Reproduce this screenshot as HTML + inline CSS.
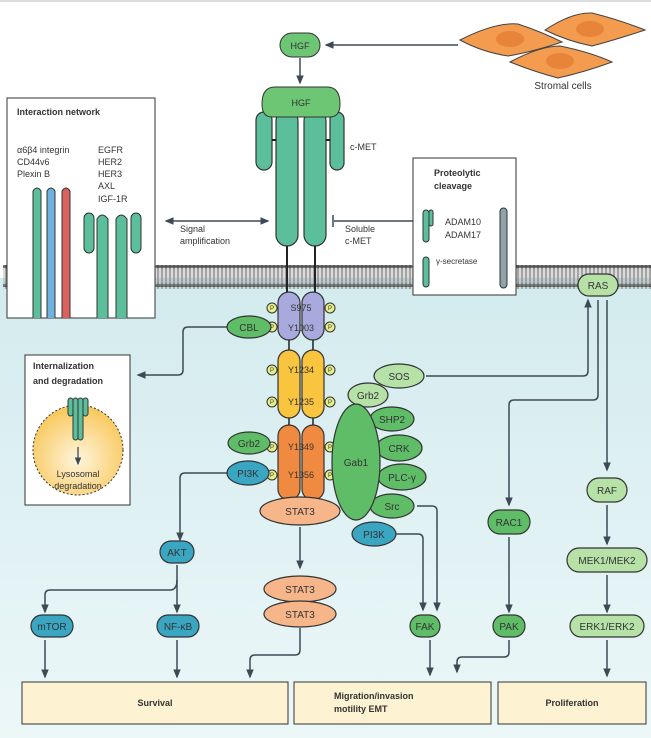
<!DOCTYPE html>
<html><head><meta charset="utf-8"><style>body{margin:0}svg{display:block}text{font-family:"Liberation Sans",sans-serif;fill:#333}</style></head><body>
<svg width="651" height="738" viewBox="0 0 651 738" xmlns="http://www.w3.org/2000/svg">
<defs>
<linearGradient id="bg" x1="0" y1="0" x2="0" y2="1"><stop offset="0" stop-color="#d3ebee"/><stop offset="1" stop-color="#ecf7f8"/></linearGradient>
<radialGradient id="lys" cx="0.5" cy="0.6" r="0.6"><stop offset="0" stop-color="#fff5dc"/><stop offset="1" stop-color="#f8c75a"/></radialGradient>
<marker id="a" markerWidth="6" markerHeight="6" refX="5" refY="3" orient="auto"><path d="M0,0.5 L6,3 L0,5.5z" fill="#3c4a55"/></marker>
<marker id="b" markerWidth="6" markerHeight="6" refX="1" refY="3" orient="auto"><path d="M6,0.5 L0,3 L6,5.5z" fill="#3c4a55"/></marker>
<pattern id="mem" width="4" height="24" patternUnits="userSpaceOnUse"><circle cx="2" cy="2.5" r="2" fill="#555"/><rect x="1.3" y="4" width="1.4" height="16" fill="#888"/><circle cx="2" cy="21.5" r="2" fill="#555"/></pattern>
</defs>
<rect width="651" height="738" fill="#fff"/>
<rect x="0" y="0" width="651" height="2" fill="#ddd"/>
<rect x="0" y="278" width="651" height="460" fill="url(#bg)"/>
<rect x="3" y="265" width="648" height="24" fill="url(#mem)"/>
<rect x="3" y="268" width="648" height="18" fill="#999" opacity="0.35"/>
<g stroke="#3c4a55" stroke-width="1.5" fill="none">
<line x1="458" y1="45" x2="326" y2="45" marker-end="url(#a)"/>
<line x1="300" y1="58" x2="300" y2="83" marker-end="url(#a)"/>
<line x1="166" y1="221" x2="268" y2="221" marker-start="url(#b)" marker-end="url(#a)"/>
<line x1="420" y1="221" x2="334" y2="221"/><line x1="333" y1="215" x2="333" y2="227"/>
<line x1="495" y1="247" x2="434" y2="247" marker-end="url(#a)"/>
<path d="M228,327 H188 Q183,327 183,332 V370 Q183,375 178,375 H138" marker-end="url(#a)"/>
<path d="M228,473 H185 Q180,473 180,478 V540" marker-end="url(#a)"/>
<path d="M177,565 V612" marker-end="url(#a)"/>
<path d="M177,580 Q177,590 170,590 H50 Q45,590 45,595 V612" marker-end="url(#a)"/>
<line x1="45" y1="640" x2="45" y2="677" marker-end="url(#a)"/>
<line x1="177" y1="640" x2="177" y2="677" marker-end="url(#a)"/>
<line x1="300" y1="527" x2="300" y2="568" marker-end="url(#a)"/>
<path d="M300,628 V650 Q300,655 295,655 H255 Q250,655 250,660 V677" marker-end="url(#a)"/>
<path d="M417,506 H432 Q437,506 437,511 V610" marker-end="url(#a)"/>
<path d="M396,534 H418 Q423,534 423,539 V610" marker-end="url(#a)"/>
<line x1="430" y1="640" x2="430" y2="675" marker-end="url(#a)"/>
<path d="M509,640 V652 Q509,657 504,657 H462 Q457,657 457,662 V672" marker-end="url(#a)"/>
<path d="M426,376 H583 Q588,376 588,371 V300" marker-end="url(#a)"/>
<path d="M598,300 V395 Q598,400 593,400 H514 Q509,400 509,405 V505" marker-end="url(#a)"/>
<line x1="607" y1="300" x2="607" y2="470" marker-end="url(#a)"/>
<line x1="607" y1="505" x2="607" y2="544" marker-end="url(#a)"/>
<line x1="607" y1="575" x2="607" y2="612" marker-end="url(#a)"/>
<line x1="607" y1="640" x2="607" y2="676" marker-end="url(#a)"/>
<line x1="509" y1="537" x2="509" y2="612" marker-end="url(#a)"/>
</g>
<!-- stromal cells -->
<g stroke="#444" stroke-width="1" fill="#f39c4f">
<path d="M460,40 Q495,22 518,24 Q542,32 562,42 Q532,52 508,56 Q482,52 460,40z"/>
<path d="M545,30 Q572,12 592,13 Q620,20 645,30 Q615,40 592,46 Q567,41 545,30z"/>
<path d="M510,62 Q540,46 560,46 Q590,52 612,62 Q585,72 558,78 Q535,72 510,62z"/>
</g>
<g fill="#e8843a"><ellipse cx="510" cy="39" rx="14" ry="8"/><ellipse cx="590" cy="29" rx="14" ry="8"/><ellipse cx="560" cy="61" rx="14" ry="8"/></g>
<text x="563" y="89" font-size="10" text-anchor="middle">Stromal cells</text>
<!-- HGF -->
<rect x="280" y="33" width="40" height="24" rx="12" fill="#6cc673" stroke="#333"/>
<text x="300" y="49" font-size="9" text-anchor="middle">HGF</text>
<g fill="#5cbf9c" stroke="#333" stroke-width="1.2">
<rect x="256" y="112" width="16" height="58" rx="8"/><rect x="330" y="112" width="14" height="58" rx="7"/>
<rect x="276" y="110" width="22" height="136" rx="11"/><rect x="304" y="110" width="22" height="136" rx="11"/>
</g>
<path d="M262,104 Q262,87 275,87 H327 Q340,87 340,104 Q340,117 330,117 H272 Q262,117 262,104z" fill="#6cc673" stroke="#333"/>
<text x="301" y="106" font-size="9" text-anchor="middle">HGF</text>
<g stroke="#222" stroke-width="2"><line x1="272" y1="140" x2="276" y2="140"/><line x1="326" y1="140" x2="330" y2="140"/><line x1="287" y1="246" x2="287" y2="294"/><line x1="315" y1="246" x2="315" y2="294"/></g>
<text x="350" y="150" font-size="9">c-MET</text>
<text x="180" y="232" font-size="9">Signal</text><text x="180" y="244" font-size="9">amplification</text>
<text x="345" y="232" font-size="9">Soluble</text><text x="345" y="244" font-size="9">c-MET</text>
<!-- interaction box -->
<rect x="7" y="98" width="148" height="220" fill="#fff" stroke="#333"/>
<text x="17" y="115" font-size="9" font-weight="bold">Interaction network</text>
<g font-size="9"><text x="17" y="153">α6β4 integrin</text><text x="17" y="165">CD44v6</text><text x="17" y="177">Plexin B</text>
<text x="98" y="153">EGFR</text><text x="98" y="165">HER2</text><text x="98" y="177">HER3</text><text x="98" y="189">AXL</text><text x="98" y="202">IGF-1R</text></g>
<g stroke="#333"><path d="M33,318 V191 Q37,185 41,191 V318" fill="#5cbf9c"/><path d="M47,318 V191 Q51,185 55,191 V318" fill="#6fb2e0"/><path d="M62,318 V191 Q66,185 70,191 V318" fill="#d9615e"/>
<rect x="84" y="213" width="10" height="40" rx="5" fill="#5cbf9c"/><rect x="131" y="213" width="10" height="40" rx="5" fill="#5cbf9c"/>
<path d="M97,318 V219 Q102,211 108,219 V318" fill="#5cbf9c"/><path d="M116,318 V219 Q121,211 127,219 V318" fill="#5cbf9c"/></g>
<!-- proteolytic -->
<rect x="413" y="158" width="103" height="137" fill="#fff" stroke="#333"/>
<text x="434" y="176" font-size="9" font-weight="bold">Proteolytic</text><text x="434" y="189" font-size="9" font-weight="bold">cleavage</text>
<g stroke="#333"><rect x="423" y="210" width="6" height="32" rx="3" fill="#5cbf9c"/><rect x="429" y="210" width="4" height="16" rx="2" fill="#5cbf9c"/><rect x="423" y="257" width="6" height="30" rx="3" fill="#5cbf9c"/><rect x="500" y="208" width="7" height="80" rx="3.5" fill="#8fa3ab"/></g>
<text x="445" y="225" font-size="9">ADAM10</text><text x="445" y="238" font-size="9">ADAM17</text><text x="436" y="264" font-size="8">γ-secretase</text>
<!-- internalization -->
<rect x="25" y="355" width="105" height="150" fill="#fff" stroke="#333"/>
<text x="33" y="369" font-size="9" font-weight="bold">Internalization</text><text x="33" y="384" font-size="9" font-weight="bold">and degradation</text>
<circle cx="78" cy="450" r="45" fill="url(#lys)" stroke="#333" stroke-dasharray="2,2"/>
<g fill="#5cbf9c" stroke="#333"><rect x="68" y="398" width="5" height="18" rx="2.5"/><rect x="83" y="398" width="5" height="18" rx="2.5"/><rect x="73" y="398" width="5" height="42" rx="2.5"/><rect x="78" y="398" width="5" height="42" rx="2.5"/></g>
<line x1="78" y1="447" x2="78" y2="464" stroke="#3c4a55" stroke-width="1.3" marker-end="url(#a)"/>
<text x="78" y="477" font-size="9" text-anchor="middle" fill="#8a6a30">Lysosomal</text><text x="78" y="489" font-size="9" text-anchor="middle" fill="#8a6a30">degradation</text>
<!-- kinase -->
<g stroke="#333" stroke-width="1.2">
<rect x="278" y="292" width="22" height="48" rx="11" fill="#a8aade"/><rect x="302" y="292" width="22" height="48" rx="11" fill="#a8aade"/>
<rect x="278" y="350" width="22" height="68" rx="11" fill="#f9c43e"/><rect x="302" y="350" width="22" height="68" rx="11" fill="#f9c43e"/>
<rect x="278" y="425" width="22" height="75" rx="11" fill="#f08a40"/><rect x="302" y="425" width="22" height="75" rx="11" fill="#f08a40"/>
</g>
<g stroke="#222" stroke-width="1.5"><line x1="289" y1="340" x2="289" y2="350"/><line x1="313" y1="340" x2="313" y2="350"/><line x1="289" y1="418" x2="289" y2="425"/><line x1="313" y1="418" x2="313" y2="425"/></g>
<g font-size="9" text-anchor="middle"><text x="301" y="311">S975</text><text x="301" y="331">Y1003</text><text x="301" y="373">Y1234</text><text x="301" y="405">Y1235</text><text x="301" y="450">Y1349</text><text x="301" y="478">Y1356</text></g>
<g fill="#e6ee8a" stroke="#333" stroke-width="1">
<circle cx="272" cy="308" r="5"/><circle cx="330" cy="308" r="5"/><circle cx="272" cy="327" r="5"/><circle cx="330" cy="327" r="5"/>
<circle cx="272" cy="370" r="5"/><circle cx="330" cy="370" r="5"/><circle cx="272" cy="402" r="5"/><circle cx="330" cy="402" r="5"/>
<circle cx="272" cy="447" r="5"/><circle cx="330" cy="447" r="5"/><circle cx="272" cy="475" r="5"/><circle cx="330" cy="475" r="5"/></g>
<g font-size="6" text-anchor="middle"><text x="272" y="310">P</text><text x="330" y="310">P</text><text x="272" y="329">P</text><text x="330" y="329">P</text><text x="272" y="372">P</text><text x="330" y="372">P</text><text x="272" y="404">P</text><text x="330" y="404">P</text><text x="272" y="449">P</text><text x="330" y="449">P</text><text x="272" y="477">P</text><text x="330" y="477">P</text></g>
<g stroke="#333" stroke-width="1.2">
<ellipse cx="300" cy="511" rx="40" ry="14" fill="#f6b68a"/>
<ellipse cx="368" cy="395" rx="20" ry="12" fill="#b6e2a8"/>
<ellipse cx="399" cy="376" rx="25" ry="12" fill="#b6e2a8"/>
<ellipse cx="392" cy="419" rx="22" ry="12" fill="#5fbd68"/>
<ellipse cx="399" cy="448" rx="23" ry="13" fill="#5fbd68"/>
<ellipse cx="402" cy="477" rx="24" ry="13" fill="#5fbd68"/>
<ellipse cx="392" cy="506" rx="22" ry="12" fill="#5fbd68"/>
<ellipse cx="356" cy="462" rx="24" ry="58" fill="#5fbd68"/>
<ellipse cx="374" cy="534" rx="22" ry="12" fill="#3aa6c2"/>
<ellipse cx="249" cy="327" rx="22" ry="11" fill="#5fbd68"/>
<ellipse cx="249" cy="443" rx="21" ry="11" fill="#5fbd68"/>
<ellipse cx="248" cy="473" rx="21" ry="12" fill="#3aa6c2"/>
<ellipse cx="300" cy="589" rx="36" ry="13" fill="#f6b68a"/>
<ellipse cx="300" cy="614" rx="36" ry="13" fill="#f6b68a"/>
</g>
<g font-size="10" text-anchor="middle"><text x="300" y="515">STAT3</text><text x="368" y="399">Grb2</text><text x="399" y="380">SOS</text><text x="392" y="423">SHP2</text><text x="399" y="452">CRK</text><text x="402" y="481">PLC-γ</text><text x="392" y="510">Src</text><text x="356" y="466">Gab1</text><text x="374" y="538">PI3K</text><text x="249" y="331">CBL</text><text x="249" y="447">Grb2</text><text x="248" y="477">PI3K</text><text x="300" y="593">STAT3</text><text x="300" y="618">STAT3</text></g>
<g stroke="#333" stroke-width="1.2">
<rect x="160" y="541" width="34" height="22" rx="11" fill="#3aa6c2"/>
<rect x="31" y="615" width="42" height="22" rx="11" fill="#3aa6c2"/>
<rect x="157" y="615" width="42" height="22" rx="11" fill="#3aa6c2"/>
<rect x="410" y="615" width="30" height="22" rx="11" fill="#5fbd68"/>
<rect x="493" y="615" width="32" height="22" rx="11" fill="#5fbd68"/>
<rect x="488" y="510" width="42" height="24" rx="12" fill="#5fbd68"/>
<rect x="587" y="478" width="40" height="24" rx="12" fill="#b6e2a8"/>
<rect x="567" y="548" width="80" height="24" rx="12" fill="#b6e2a8"/>
<rect x="570" y="615" width="74" height="22" rx="11" fill="#b6e2a8"/>
<rect x="578" y="274" width="40" height="22" rx="11" fill="#b6e2a8"/>
</g>
<g font-size="10" text-anchor="middle"><text x="177" y="556">AKT</text><text x="52" y="630">mTOR</text><text x="178" y="630">NF-κB</text><text x="425" y="630">FAK</text><text x="509" y="630">PAK</text><text x="509" y="526">RAC1</text><text x="607" y="494">RAF</text><text x="607" y="564">MEK1/MEK2</text><text x="607" y="630">ERK1/ERK2</text><text x="598" y="289">RAS</text></g>
<g fill="#fdf2d2" stroke="#333"><rect x="22" y="682" width="266" height="42"/><rect x="294" y="682" width="197" height="42"/><rect x="498" y="682" width="148" height="42"/></g>
<g font-size="9" font-weight="bold"><text x="155" y="706" text-anchor="middle">Survival</text><text x="334" y="699">Migration/invasion</text><text x="334" y="712">motility EMT</text><text x="572" y="706" text-anchor="middle">Proliferation</text></g>
</svg>
</body></html>
